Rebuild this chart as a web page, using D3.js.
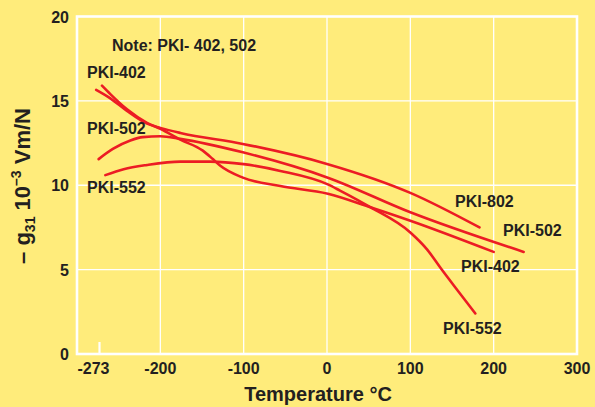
<!DOCTYPE html>
<html>
<head>
<meta charset="utf-8">
<script src="https://cdn.jsdelivr.net/npm/d3@7"></script>
<style>
  html, body { margin: 0; padding: 0; background: #ffec7b; }
  svg { display: block; }
  text { font-family: "Liberation Sans", Arial, sans-serif; font-weight: bold; fill: #231f20; }
</style>
</head>
<body>
<div id="chart"></div>
<script>
// g31 (10^-3 Vm/N) against temperature
var temp402 = [-270, -260, -240, -216, -200, -176, -149, -137, -128, -101, -56, 1, 52, 100, 200];
var g402    = [15.9, 15.4, 14.5, 13.7, 13.35, 12.7, 12.05, 11.55, 11.15, 10.45, 9.95, 9.5, 8.7, 7.9, 6.05];

var temp802 = [-277, -260, -240, -216, -200, -176, -101, 1, 100, 183];
var g802    = [15.65, 15.15, 14.4, 13.65, 13.4, 13.1, 12.45, 11.25, 9.55, 7.5];

var temp502 = [-274, -257, -236, -221, -200, -176, -101, 1, 100, 236];
var g502    = [11.55, 12.15, 12.65, 12.85, 12.9, 12.75, 11.95, 10.45, 8.4, 6.05];

var temp552 = [-266, -244, -216, -176, -140, -100, -56, 1, 15, 52, 100, 120, 137, 157, 178];
var g552    = [10.6, 10.95, 11.2, 11.4, 11.4, 11.25, 10.85, 10.05, 9.7, 8.7, 7.2, 6.2, 5.05, 3.75, 2.4];

var xTicks = [-273, -200, -100, 0, 100, 200, 300];
var xGrid  = [-200, -100, 0, 100, 200];
var yTicks = [0, 5, 10, 15, 20];
var yGrid  = [5, 10, 15];

var width = 595, height = 407;
var red = "#ec1c24";

var svg = d3.select("#chart").append("svg")
            .attr("width", width)
            .attr("height", height);

svg.append("rect")
   .attr("width", width)
   .attr("height", height)
   .attr("fill", "#ffec7b");

var x = d3.scaleLinear().domain([-300, 300]).range([77, 577]);
var y = d3.scaleLinear().domain([0, 20]).range([354, 16.5]);

// grid
svg.selectAll(".vgrid")
   .data(xGrid)
   .enter()
   .append("line")
   .attr("x1", d => x(d)).attr("x2", d => x(d))
   .attr("y1", y(0)).attr("y2", y(20))
   .attr("stroke", "#fff").attr("stroke-width", 1.3);

svg.selectAll(".hgrid")
   .data(yGrid)
   .enter()
   .append("line")
   .attr("x1", x(-300)).attr("x2", x(300))
   .attr("y1", d => y(d)).attr("y2", d => y(d))
   .attr("stroke", "#fff").attr("stroke-width", 1.3);

// frame
svg.append("rect")
   .attr("x", x(-300)).attr("y", y(20))
   .attr("width", x(300) - x(-300))
   .attr("height", y(0) - y(20))
   .attr("fill", "none")
   .attr("stroke", "#fff")
   .attr("stroke-width", 2.6);

// short mark at absolute zero
svg.append("line")
   .attr("x1", x(-273)).attr("x2", x(-273))
   .attr("y1", y(0)).attr("y2", y(0) - 12)
   .attr("stroke", "#fff").attr("stroke-width", 2.2);

// tick labels
svg.selectAll(".xlab")
   .data(xTicks)
   .enter()
   .append("text")
   .attr("x", d => x(d) + (d === -273 ? -6 : 0))
   .attr("y", y(0) + 20)
   .attr("text-anchor", "middle")
   .style("font-size", "16px")
   .text(d => d);

svg.selectAll(".ylab")
   .data(yTicks)
   .enter()
   .append("text")
   .attr("x", 69)
   .attr("y", d => y(d) + 6)
   .attr("text-anchor", "end")
   .style("font-size", "16px")
   .text(d => d);

// axis titles
svg.append("text")
   .attr("x", 318)
   .attr("y", 401)
   .attr("text-anchor", "middle")
   .style("font-size", "20px")
   .text("Temperature °C");

var ylabel = svg.append("text")
   .attr("transform", "translate(30,186) rotate(-90)")
   .attr("text-anchor", "middle")
   .style("font-size", "22px");
ylabel.append("tspan").text("– g");
ylabel.append("tspan").attr("dy", 5).style("font-size", "14px").text("31");
ylabel.append("tspan").attr("dy", -5).text(" 10");
ylabel.append("tspan").attr("dy", -9).style("font-size", "14px").text("–3");
ylabel.append("tspan").attr("dy", 9).text(" Vm/N");

// curves
var series = [
  { t: temp402, g: g402 },
  { t: temp802, g: g802 },
  { t: temp502, g: g502 },
  { t: temp552, g: g552 }
];

var line = d3.line()
             .x(d => x(d[0]))
             .y(d => y(d[1]))
             .curve(d3.curveMonotoneX);

svg.selectAll(".curve")
   .data(series)
   .enter()
   .append("path")
   .attr("d", s => line(s.t.map((t, i) => [t, s.g[i]])))
   .attr("fill", "none")
   .attr("stroke", red)
   .attr("stroke-width", 2.6)
   .attr("stroke-linecap", "round");

// labels
var notes = [
  { text: "Note: PKI- 402, 502", x: 112, y: 51 },
  { text: "PKI-402", x: 87, y: 78 },
  { text: "PKI-502", x: 87, y: 134 },
  { text: "PKI-552", x: 87, y: 193 },
  { text: "PKI-802", x: 455, y: 207 },
  { text: "PKI-502", x: 503, y: 236 },
  { text: "PKI-402", x: 461, y: 272 },
  { text: "PKI-552", x: 443, y: 334 }
];

svg.selectAll(".note")
   .data(notes)
   .enter()
   .append("text")
   .attr("x", d => d.x)
   .attr("y", d => d.y)
   .style("font-size", "16px")
   .text(d => d.text);
</script>
</body>
</html>
